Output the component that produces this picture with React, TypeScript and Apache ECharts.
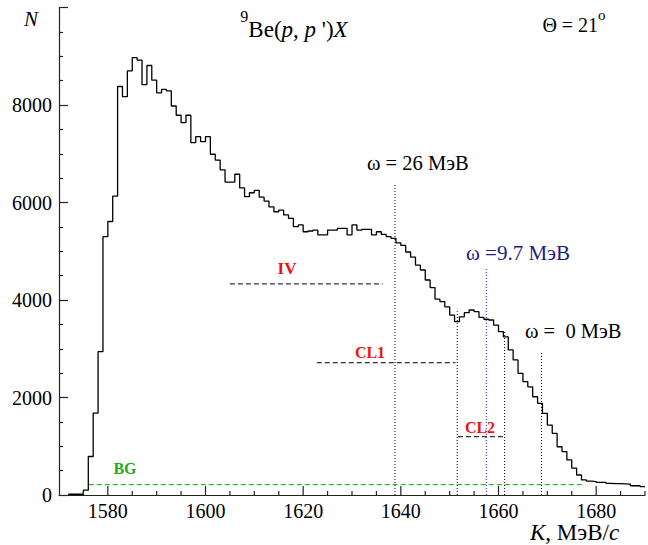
import React, { useEffect, useRef } from "react";
import * as echarts from "echarts";

// Histogram: left edge of first non-empty bin, bin width (MeV/c), counts per bin
const binStart = 1572;
const binWidth = 1;
const counts = [
  15, 15, 15, 100, 790, 1680, 2940, 5300, 5610, 6130,
  8380, 8170, 8700, 8970, 8920, 8420, 8810, 8510, 8250, 8320,
  8290, 7980, 7790, 7640, 7790, 7230, 7350, 7250, 7350, 6990,
  6870, 6670, 6420, 6420, 6580, 6300, 6120, 6200, 6250, 6110,
  6030, 5910, 5810, 5845, 5745, 5675, 5505, 5540, 5400, 5415,
  5435, 5335, 5335, 5435, 5435, 5470, 5470, 5335, 5540, 5435,
  5450, 5450, 5335, 5400, 5345, 5300, 5265, 5170, 5120, 4985,
  4880, 4715, 4615, 4410, 4255, 4020, 3965, 3860, 3690, 3555,
  3655, 3740, 3795, 3760, 3645, 3605, 3590, 3485, 3350, 3245,
  2975, 2770, 2495, 2325, 2220, 2015, 1880, 1675, 1435, 1265,
  990, 890, 720, 550, 410, 310, 285, 275, 260, 260,
  240, 235, 235, 230, 225, 190, 190, 170,
];

// Vertical dotted markers (K position, top value)
const markerK = [1638.8, 1651.55, 1657.5, 1661.25, 1668.8];
const markerTop = [6360, 3770, 4660, 3350, 2910];

// Horizontal dashed ranges: IV, CL1, CL2, BG
const rangeNames = ["IV", "CL1", "CL2", "BG"];
const rangeFrom = [1605.0, 1622.8, 1651.7, 1576.1];
const rangeTo = [1636.3, 1651.2, 1661.0, 1677.3];
const rangeLevel = [4330, 2713, 1196, 212];

// Axis ticks
const xMin = 1570;
const xMax = 1690;
const xMajorTicks = [1580, 1600, 1620, 1640, 1660, 1680];
const xMinorTicks = [
  1575, 1585, 1590, 1595, 1605, 1610, 1615, 1625, 1630, 1635,
  1645, 1650, 1655, 1665, 1670, 1675, 1685, 1690,
];
const yMin = 0;
const yMax = 10000;
const yStep = 2000;

const SERIF = "Liberation Serif";

export default function App() {
  const ref = useRef<HTMLDivElement>(null);

  useEffect(() => {
    if (!ref.current) return;
    const chart = echarts.init(ref.current, undefined, { renderer: "svg" });

    const histData: number[][] = [[binStart, 0]];
    counts.forEach((c, i) => histData.push([binStart + i * binWidth, c]));
    histData.push([binStart + counts.length * binWidth, counts[counts.length - 1]]);

    const markerColors = ["#000", "#000", "#2222ee", "#000", "#000"];
    const rangeColors = ["#000", "#000", "#000", "#00aa00"];
    const axisColor = "#222";
    const red = "#ee1111";

    const tickSeries = (values: number[], len: number) => ({
      type: "custom",
      coordinateSystem: "cartesian2d",
      silent: true,
      clip: false,
      z: 10,
      encode: { x: 0, y: 1 },
      data: values.map((v) => [v, yMin]),
      renderItem: (_params: any, api: any) => {
        const p = api.coord([api.value(0), yMin]);
        return {
          type: "line",
          shape: { x1: p[0], y1: p[1], x2: p[0], y2: p[1] - len },
          style: { stroke: axisColor, lineWidth: 1.2 },
        };
      },
    });

    const series: any[] = [
      {
        type: "line",
        step: "end",
        data: histData,
        symbol: "none",
        lineStyle: { color: "#000", width: 1.3 },
      },
    ];
    markerK.forEach((k, i) => {
      series.push({
        type: "line",
        data: [[k, 0], [k, markerTop[i]]],
        symbol: "none",
        lineStyle: { color: markerColors[i], width: 1, type: [1, 2] },
      });
    });
    rangeNames.forEach((n, i) => {
      series.push({
        type: "line",
        name: n,
        data: [[rangeFrom[i], rangeLevel[i]], [rangeTo[i], rangeLevel[i]]],
        symbol: "none",
        lineStyle: { color: rangeColors[i], width: 1, type: [5, 3] },
      });
    });
    series.push(tickSeries(xMajorTicks, 9));
    series.push(tickSeries(xMinorTicks, 4));

    chart.setOption({
      animation: false,
      grid: { left: 59, right: 3, top: 7.5, bottom: 50 },
      xAxis: {
        type: "value",
        min: xMin,
        max: xMax,
        axisLine: { show: true, lineStyle: { color: axisColor, width: 1.2 } },
        axisTick: { show: false },
        minorTick: { show: false },
        axisLabel: {
          customValues: xMajorTicks,
          formatter: (v: number) => String(v),
          fontFamily: SERIF,
          fontSize: 20,
          color: "#000",
          margin: 6,
        },
        splitLine: { show: false },
      },
      yAxis: {
        type: "value",
        min: yMin,
        max: yMax,
        interval: yStep,
        axisLine: { show: true, lineStyle: { color: axisColor, width: 1.2 } },
        axisTick: { show: true, inside: true, length: 9, lineStyle: { color: axisColor, width: 1.2 } },
        minorTick: { show: true, splitNumber: 4, length: 4, lineStyle: { color: axisColor, width: 1.2 } },
        splitLine: { show: false },
        axisLabel: {
          formatter: (v: number) => (v === yMax ? "" : String(v)),
          fontFamily: SERIF,
          fontSize: 20,
          color: "#000",
          margin: 7,
        },
      },
      series,
      graphic: [
        {
          type: "text", x: 31, y: 19,
          style: { text: "N", fontFamily: SERIF, fontSize: 21, fontStyle: "italic", fill: "#000", align: "center", verticalAlign: "middle" },
        },
        {
          type: "text", x: 294, y: 24.5,
          style: {
            text: "{s|9}{r|Be(}{i|p}{r|, }{i|p}{r| ')}{i|X}",
            align: "center", verticalAlign: "middle", fill: "#000",
            rich: {
              s: { fontFamily: SERIF, fontSize: 16, verticalAlign: "top", lineHeight: 32 },
              r: { fontFamily: SERIF, fontSize: 23, verticalAlign: "bottom", lineHeight: 32 },
              i: { fontFamily: SERIF, fontSize: 23, fontStyle: "italic", verticalAlign: "bottom", lineHeight: 32 },
            },
          },
        },
        {
          type: "text", x: 574, y: 21,
          style: {
            text: "{r|Θ = 21}{s|o}",
            align: "center", verticalAlign: "middle", fill: "#000",
            rich: {
              s: { fontFamily: SERIF, fontSize: 15, verticalAlign: "top", lineHeight: 28 },
              r: { fontFamily: SERIF, fontSize: 20, verticalAlign: "bottom", lineHeight: 28 },
            },
          },
        },
        {
          type: "text", x: 367, y: 163,
          style: { text: "ω = 26 МэВ", fontFamily: SERIF, fontSize: 20.5, fill: "#000", align: "left", verticalAlign: "middle" },
        },
        {
          type: "text", x: 466, y: 253,
          style: { text: "ω =9.7 МэВ", fontFamily: SERIF, fontSize: 21, fill: "#1c1c8e", align: "left", verticalAlign: "middle" },
        },
        {
          type: "text", x: 525, y: 331,
          style: { text: "ω =  0 МэВ", fontFamily: SERIF, fontSize: 20.5, fill: "#000", align: "left", verticalAlign: "middle" },
        },
        {
          type: "text", x: 287, y: 268,
          style: { text: rangeNames[0], fontFamily: SERIF, fontSize: 17, fontWeight: "bold", fill: red, align: "center", verticalAlign: "middle" },
        },
        {
          type: "text", x: 370, y: 352,
          style: { text: rangeNames[1], fontFamily: SERIF, fontSize: 16, fontWeight: "bold", fill: red, align: "center", verticalAlign: "middle" },
        },
        {
          type: "text", x: 480, y: 427,
          style: { text: rangeNames[2], fontFamily: SERIF, fontSize: 16, fontWeight: "bold", fill: red, align: "center", verticalAlign: "middle" },
        },
        {
          type: "text", x: 125, y: 468,
          style: { text: rangeNames[3], fontFamily: SERIF, fontSize: 16, fontWeight: "bold", fill: "#22aa22", align: "center", verticalAlign: "middle" },
        },
        {
          type: "text", x: 530, y: 532,
          style: {
            text: "{i|K}{r|, МэВ/}{i|c}",
            align: "left", verticalAlign: "middle", fill: "#000",
            rich: {
              r: { fontFamily: SERIF, fontSize: 23 },
              i: { fontFamily: SERIF, fontSize: 23, fontStyle: "italic" },
            },
          },
        },
      ],
    });

    return () => chart.dispose();
  }, []);

  return (
    <div
      ref={ref}
      style={{ position: "absolute", left: 0, top: 0, width: 648, height: 545 }}
    />
  );
}
